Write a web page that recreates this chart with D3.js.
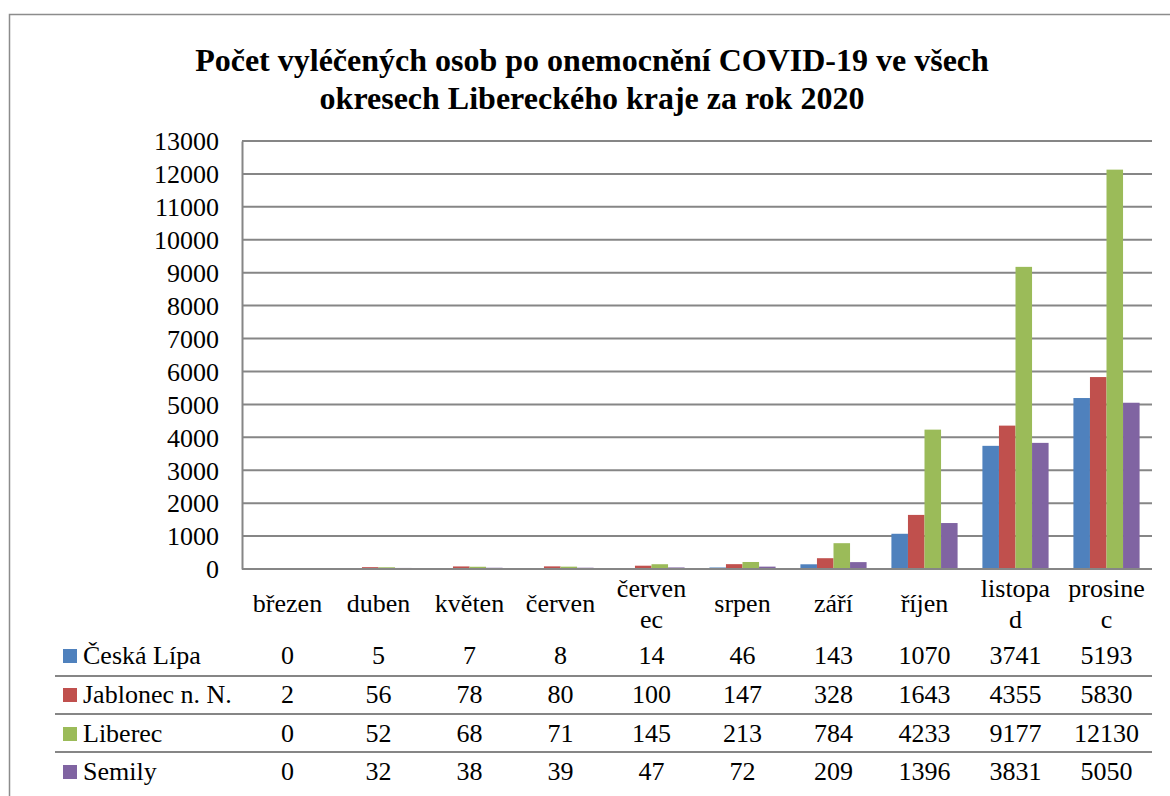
<!DOCTYPE html>
<html>
<head>
<meta charset="utf-8">
<script src="https://cdn.jsdelivr.net/npm/d3@7"></script>
<style>
  body { margin: 0; background: #fff; }
</style>
</head>
<body>
<svg id="chart" width="1170" height="796"></svg>
<script>
// months (label lines as Excel wrapped them)
const months = ["březen", "duben", "květen", "červen", "červenec", "srpen", "září", "říjen", "listopad", "prosinec"];
const monthLines = [["březen"], ["duben"], ["květen"], ["červen"], ["červen", "ec"], ["srpen"], ["září"], ["říjen"], ["listopa", "d"], ["prosine", "c"]];

const districts = ["Česká Lípa", "Jablonec n. N.", "Liberec", "Semily"];
const colors = ["#4F81BD", "#C0504D", "#9BBB59", "#8064A2"];

const ceskaLipa = [0, 5, 7, 8, 14, 46, 143, 1070, 3741, 5193];
const jablonec  = [2, 56, 78, 80, 100, 147, 328, 1643, 4355, 5830];
const liberec   = [0, 52, 68, 71, 145, 213, 784, 4233, 9177, 12130];
const semily    = [0, 32, 38, 39, 47, 72, 209, 1396, 3831, 5050];
const series = [ceskaLipa, jablonec, liberec, semily];

const yTicks = d3.range(0, 13001, 1000);

const FONT = '"Liberation Serif", "Times New Roman", serif';
const svg = d3.select("#chart");
const plotL = 242, plotR = 1152, plotT = 141, plotB = 569;
const gridColor = "#868686";

// outer border of the chart object
svg.append("rect")
    .attr("x", 9.5).attr("y", 14.5)
    .attr("width", 1200).attr("height", 900)
    .attr("fill", "none")
    .attr("stroke", "#8c8c8c")
    .attr("stroke-width", 1.5);

// title
const title = svg.append("text")
    .attr("text-anchor", "middle")
    .style("font-family", FONT)
    .style("font-size", "32px")
    .style("font-weight", "bold");
title.append("tspan").attr("x", 592).attr("y", 71).text("Počet vyléčených osob po onemocnění COVID-19 ve všech");
title.append("tspan").attr("x", 592).attr("y", 109).text("okresech Libereckého kraje za rok 2020");

const x = d3.scaleBand().domain(months).range([plotL, plotR]).padding(0);
const xs = d3.scaleBand().domain(districts).range([0, x.bandwidth()]).paddingInner(0).paddingOuter(0.75);
const y = d3.scaleLinear().domain([0, 13000]).range([plotB, plotT]);
const cx = j => x(months[j]) + x.bandwidth() / 2;

// gridlines
svg.append("g")
    .selectAll("line")
    .data(yTicks)
    .join("line")
    .attr("x1", plotL).attr("x2", plotR)
    .attr("y1", d => y(d)).attr("y2", d => y(d))
    .attr("stroke", gridColor)
    .attr("stroke-width", 2);

// y axis
const yAxis = svg.append("g")
    .attr("transform", `translate(${plotL},0)`)
    .call(d3.axisLeft(y).tickValues(yTicks).tickSize(0).tickPadding(23).tickFormat(d3.format("d")));
yAxis.select(".domain").attr("stroke", gridColor).attr("stroke-width", 2);
yAxis.selectAll("text")
    .style("font-family", FONT)
    .style("font-size", "26px")
    .attr("fill", "#000")
    .attr("dy", "0.34em");

// bars
svg.append("g")
    .selectAll("g")
    .data(series)
    .join("g")
    .attr("fill", (d, i) => colors[i])
    .selectAll("rect")
    .data((d, i) => d.map((v, j) => ({ v, month: months[j], district: districts[i] })))
    .join("rect")
    .attr("x", d => x(d.month) + xs(d.district))
    .attr("width", xs.bandwidth())
    .attr("y", d => y(d.v))
    .attr("height", d => plotB - y(d.v));

// redraw baseline on top of bars
svg.append("line")
    .attr("x1", plotL).attr("x2", plotR)
    .attr("y1", y(0)).attr("y2", y(0))
    .attr("stroke", gridColor).attr("stroke-width", 2);

// category labels
svg.append("g")
    .selectAll("text")
    .data(monthLines.map((lines, j) => ({ lines, j })))
    .join("text")
    .attr("text-anchor", "middle")
    .style("font-family", FONT)
    .style("font-size", "26px")
    .attr("y", d => d.lines.length > 1 ? 597 : 612)
    .each(function (d) {
        d3.select(this).selectAll("tspan")
            .data(d.lines)
            .join("tspan")
            .attr("x", cx(d.j))
            .attr("dy", (s, i) => i ? 31 : 0)
            .text(s => s);
    });

// data table
const rowBase = [664, 703, 742, 780];
const rows = svg.append("g")
    .selectAll("g")
    .data(series)
    .join("g");

rows.append("rect")
    .attr("x", 63).attr("y", (d, i) => rowBase[i] - 15)
    .attr("width", 14).attr("height", 14)
    .attr("fill", (d, i) => colors[i]);

rows.append("text")
    .attr("x", 83).attr("y", (d, i) => rowBase[i])
    .style("font-family", FONT)
    .style("font-size", "26px")
    .text((d, i) => districts[i]);

rows.each(function (d, i) {
    d3.select(this).selectAll("text.val")
        .data(d)
        .join("text")
        .attr("class", "val")
        .attr("text-anchor", "middle")
        .attr("x", (v, j) => cx(j))
        .attr("y", rowBase[i])
        .style("font-family", FONT)
        .style("font-size", "26px")
        .text(v => v);
});

// row separators
svg.append("g")
    .selectAll("line")
    .data([676, 714, 752])
    .join("line")
    .attr("x1", 55).attr("x2", plotR)
    .attr("y1", d => d).attr("y2", d => d)
    .attr("stroke", gridColor)
    .attr("stroke-width", 2);
</script>
</body>
</html>
